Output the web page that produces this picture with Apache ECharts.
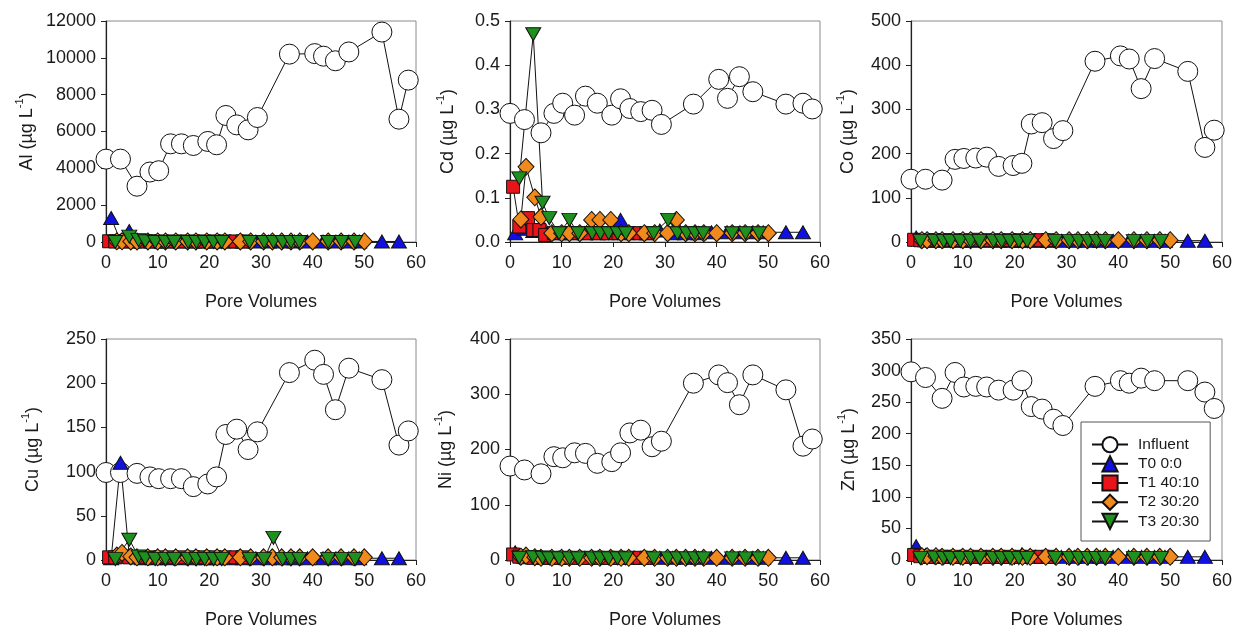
<!DOCTYPE html>
<html>
<head>
<meta charset="utf-8">
<script src="https://cdn.jsdelivr.net/npm/echarts@6/dist/echarts.min.js"></script>
<style>
html,body{margin:0;padding:0;background:#fff;}
#c{width:1235px;height:633px;}
</style>
</head>
<body>
<div id="c"></div>
<script>
// ---------- DATA ----------
const xTicks = [0, 10, 20, 30, 40, 50, 60];
const seriesNames = ['Influent', 'T0 0:0', 'T1 40:10', 'T2 30:20', 'T3 20:30'];
const metals = ['Al', 'Cd', 'Co', 'Cu', 'Ni', 'Zn'];
const yMax = [12000, 0.5, 500, 250, 400, 350];
const yStep = [2000, 0.1, 100, 50, 100, 50];

// pore volumes (x) per series
const xInfluent = [0, 2.8, 6.0, 8.5, 10.2, 12.5, 14.6, 16.9, 19.7, 21.4, 23.2, 25.3, 27.5, 29.3, 35.5, 40.4, 42.1, 44.4, 47.0, 53.4, 56.7, 58.5];
const xT0 = [1.0, 2.8, 4.5, 7.0, 9.5, 12.0, 14.5, 17.0, 19.5, 21.4, 24.0, 26.5, 29.0, 31.5, 34.0, 36.5, 39.0, 42.0, 44.5, 47.0, 49.0, 53.4, 56.7];
const xT1 = [0.6, 1.8, 3.5, 4.5, 5.7, 6.8, 8.5, 10.5, 12.7, 14.8, 16.9, 19.0, 21.0, 23.0, 25.1, 26.4];
const xT2 = [2.1, 3.1, 4.8, 6.0, 8.1, 10.0, 11.5, 13.5, 15.8, 17.4, 19.5, 21.5, 23.0, 26.0, 28.0, 30.5, 32.2, 34.0, 35.8, 37.5, 40.0, 43.0, 45.5, 48.0, 50.0];
const xT3 = [1.8, 4.5, 6.3, 7.6, 9.5, 11.5, 13.2, 15.9, 17.5, 19.1, 20.8, 22.4, 27.8, 30.6, 32.4, 34.2, 35.8, 37.4, 43.0, 45.6, 48.2];

// Al (µg/L)
const alInfluent = [4500, 4500, 3030, 3800, 3870, 5330, 5330, 5240, 5460, 5280, 6870, 6360, 6090, 6760, 10200, 10230, 10090, 9840, 10320, 11400, 6670, 8790];
const alT0 = [1300, 60, 600, 40, 30, 30, 30, 30, 30, 40, 30, 30, 30, 30, 30, 30, 30, 30, 30, 30, 30, 30, 30];
const alT1 = [40, 30, 30, 30, 30, 30, 30, 30, 30, 30, 30, 30, 30, 30, 30, 30];
const alT2 = [40, 40, 30, 30, 30, 30, 30, 30, 30, 30, 30, 30, 30, 30, 30, 30, 30, 30, 30, 30, 30, 30, 30, 30, 30];
const alT3 = [0, 290, 100, 40, 0, 0, 0, 0, 0, 0, 0, 0, 0, 0, 0, 0, 0, 0, 0, 0, 0];

// Cd (µg/L)
const cdInfluent = [0.291, 0.277, 0.247, 0.291, 0.314, 0.287, 0.330, 0.314, 0.287, 0.324, 0.302, 0.295, 0.298, 0.266, 0.312, 0.368, 0.325, 0.374, 0.340, 0.312, 0.314, 0.301];
const cdT0 = [0.02, 0.03, 0.025, 0.02, 0.02, 0.02, 0.02, 0.02, 0.02, 0.05, 0.02, 0.02, 0.026, 0.02, 0.02, 0.02, 0.022, 0.022, 0.022, 0.022, 0.022, 0.022, 0.022];
const cdT1 = [0.125, 0.035, 0.054, 0.027, 0.027, 0.016, 0.02, 0.02, 0.02, 0.02, 0.02, 0.02, 0.02, 0.02, 0.02, 0.02];
const cdT2 = [0.051, 0.170, 0.101, 0.057, 0.02, 0.02, 0.02, 0.02, 0.05, 0.05, 0.05, 0.02, 0.02, 0.02, 0.02, 0.02, 0.05, 0.02, 0.02, 0.02, 0.02, 0.02, 0.02, 0.02, 0.02];
const cdT3 = [0.144, 0.470, 0.089, 0.054, 0.02, 0.05, 0.02, 0.02, 0.02, 0.02, 0.02, 0.02, 0.02, 0.05, 0.02, 0.02, 0.02, 0.02, 0.02, 0.02, 0.02];

// Co (µg/L)
const coInfluent = [142, 142, 140, 187, 189, 190, 192, 171, 173, 178, 267, 270, 234, 252, 409, 421, 414, 347, 415, 386, 214, 253];
const coT0 = [10, 4, 3, 3, 3, 3, 3, 3, 3, 3, 3, 3, 3, 3, 3, 3, 3, 3, 3, 3, 3, 3, 3];
const coT1 = [5, 4, 4, 4, 4, 4, 4, 4, 5, 4, 4, 4, 4, 4, 4, 4];
const coT2 = [4, 4, 4, 4, 4, 4, 4, 4, 4, 4, 4, 4, 4, 4, 4, 4, 4, 4, 5, 4, 4, 4, 4, 4, 4];
const coT3 = [2, 3, 2, 2, 2, 2, 2, 2, 2, 2, 2, 2, 2, 2, 2, 2, 2, 2, 2, 2, 2];

// Cu (µg/L)
const cuInfluent = [99, 99, 98, 94, 92, 92, 92, 83, 86, 94, 142, 148, 125, 145, 212, 226, 210, 170, 217, 204, 130, 146];
const cuT0 = [2, 110, 5, 2, 2, 2, 2, 2, 2, 2, 2, 2, 2, 2, 2, 2, 2, 2, 2, 2, 2, 2, 2];
const cuT1 = [3, 3, 4, 3, 3, 3, 3, 3, 3, 3, 3, 3, 3, 3, 3, 3];
const cuT2 = [5, 8, 4, 3, 3, 3, 3, 3, 3, 3, 3, 3, 3, 3, 3, 3, 3, 3, 3, 3, 3, 3, 3, 3, 3];
const cuT3 = [1, 23, 4, 2, 1, 1, 1, 1, 1, 1, 1, 1, 1, 1, 25, 1, 1, 1, 1, 1, 1];

// Ni (µg/L)
const niInfluent = [170, 163, 156, 187, 185, 194, 193, 175, 178, 194, 230, 235, 205, 215, 320, 335, 321, 281, 335, 308, 206, 219];
const niT0 = [14, 6, 5, 4, 4, 4, 4, 4, 4, 4, 4, 4, 4, 4, 4, 4, 4, 4, 4, 4, 4, 4, 4];
const niT1 = [10, 6, 5, 4, 4, 4, 4, 4, 4, 4, 4, 4, 4, 4, 4, 4];
const niT2 = [6, 8, 5, 4, 4, 4, 4, 4, 4, 4, 4, 4, 4, 4, 4, 4, 4, 4, 4, 4, 4, 4, 4, 4, 4];
const niT3 = [4, 5, 4, 3, 3, 3, 3, 3, 3, 3, 3, 3, 3, 3, 3, 3, 3, 3, 3, 3, 3];

// Zn (µg/L)
const znInfluent = [298, 289, 256, 297, 274, 275, 274, 269, 269, 284, 243, 239, 223, 213, 275, 284, 280, 288, 284, 284, 266, 240];
const znT0 = [22, 8, 5, 5, 5, 5, 5, 5, 5, 9, 5, 5, 5, 5, 5, 5, 5, 5, 5, 5, 5, 5, 5];
const znT1 = [8, 6, 5, 5, 5, 5, 5, 5, 5, 5, 5, 5, 5, 5, 5, 5];
const znT2 = [6, 6, 6, 5, 5, 5, 5, 5, 5, 5, 5, 5, 5, 5, 5, 5, 5, 5, 5, 5, 5, 5, 5, 5, 5];
const znT3 = [3, 4, 3, 3, 3, 3, 3, 3, 3, 3, 3, 3, 3, 3, 3, 3, 3, 3, 3, 3, 3];

// ---------- CHART ----------
const FONT = 'Liberation Sans, Arial, sans-serif';
const xs = [xInfluent, xT0, xT1, xT2, xT3];
const valuesByMetal = [
  [alInfluent, alT0, alT1, alT2, alT3],
  [cdInfluent, cdT0, cdT1, cdT2, cdT3],
  [coInfluent, coT0, coT1, coT2, coT3],
  [cuInfluent, cuT0, cuT1, cuT2, cuT3],
  [niInfluent, niT0, niT1, niT2, niT3],
  [znInfluent, znT0, znT1, znT2, znT3]
];
const styles = [
  {symbol: 'circle', size: 20, color: '#ffffff', rotate: 0},
  {symbol: 'triangle', size: [15, 13], color: '#1010e0', rotate: 0},
  {symbol: 'rect', size: 13, color: '#e8141a', rotate: 0},
  {symbol: 'diamond', size: [16, 17], color: '#f08a1c', rotate: 0},
  {symbol: 'triangle', size: [15, 13], color: '#1e901e', rotate: 180}
];
const gridLefts = [106, 510, 911];
const gridWidths = [310, 310, 311];
const gridTops = [21, 339];
const gridH = 221;
const nameGaps = [70, 53, 54, 64, 55, 53];

const grids = [], xAxes = [], yAxes = [], series = [];
for (let g = 0; g < 6; g++) {
  const col = g % 3, row = Math.floor(g / 3);
  grids.push({left: gridLefts[col], top: gridTops[row], width: gridWidths[col], height: gridH,
    show: true, borderColor: '#8a8a8a', borderWidth: 1, backgroundColor: 'transparent'});
  xAxes.push({type: 'value', gridIndex: g, min: xTicks[0], max: xTicks[xTicks.length - 1], interval: 10,
    splitLine: {show: false},
    axisLine: {show: true, onZero: false, lineStyle: {color: '#222', width: 1.2}},
    axisTick: {show: true, inside: false, length: 5, lineStyle: {color: '#222'}},
    axisLabel: {fontSize: 18, color: '#1a1a1a', fontFamily: FONT, margin: 12},
    name: 'Pore Volumes', nameLocation: 'middle', nameGap: 51,
    nameTextStyle: {fontSize: 18, color: '#1a1a1a', fontFamily: FONT}
  });
  const step = yStep[g];
  yAxes.push({type: 'value', gridIndex: g, min: 0, max: yMax[g], interval: step,
    splitLine: {show: false},
    axisLine: {show: true, onZero: false, lineStyle: {color: '#222', width: 1.2}},
    axisTick: {show: true, inside: false, length: 5, lineStyle: {color: '#222'}},
    axisLabel: {fontSize: 18, color: '#1a1a1a', fontFamily: FONT, margin: 10,
      formatter: v => step < 1 ? v.toFixed(1) : String(v)},
    name: '{a|' + metals[g] + ' (µg L}{s|-1}{a|)}', nameLocation: 'middle', nameGap: nameGaps[g],
    nameTextStyle: {fontFamily: FONT, color: '#1a1a1a',
      rich: {a: {fontSize: 18, fontFamily: FONT, color: '#1a1a1a', lineHeight: 22, verticalAlign: 'bottom'},
             s: {fontSize: 11, fontFamily: FONT, color: '#1a1a1a', lineHeight: 22, verticalAlign: 'top', padding: [0, 0, 8, 0]}}}
  });
  const vals = valuesByMetal[g];
  for (let s = 0; s < 5; s++) {
    const st = styles[s];
    series.push({
      type: 'line', name: seriesNames[s], xAxisIndex: g, yAxisIndex: g,
      data: xs[s].map((x, i) => [x, vals[s][i]]),
      symbol: st.symbol, symbolSize: st.size, symbolRotate: st.rotate,
      showAllSymbol: true, clip: false, animation: false,
      lineStyle: {color: '#111', width: 1},
      itemStyle: {color: st.color, borderColor: '#111', borderWidth: 1, opacity: 1},
      emphasis: {disabled: true}
    });
  }
}

const chart = echarts.init(document.getElementById('c'), null, {renderer: 'canvas'});
chart.setOption({
  animation: false,
  backgroundColor: '#ffffff',
  grid: grids, xAxis: xAxes, yAxis: yAxes, series: series,
  legend: {
    data: seriesNames, orient: 'vertical', left: 1081, top: 422,
    padding: [14, 11, 11, 10], itemWidth: 36, itemHeight: 19, itemGap: 2,
    backgroundColor: '#ffffff', borderColor: '#555', borderWidth: 1,
    textStyle: {fontSize: 15.5, color: '#1a1a1a', fontFamily: FONT, padding: [0, 0, 0, 5]},
    selectedMode: false
  }
});
</script>
</body>
</html>
